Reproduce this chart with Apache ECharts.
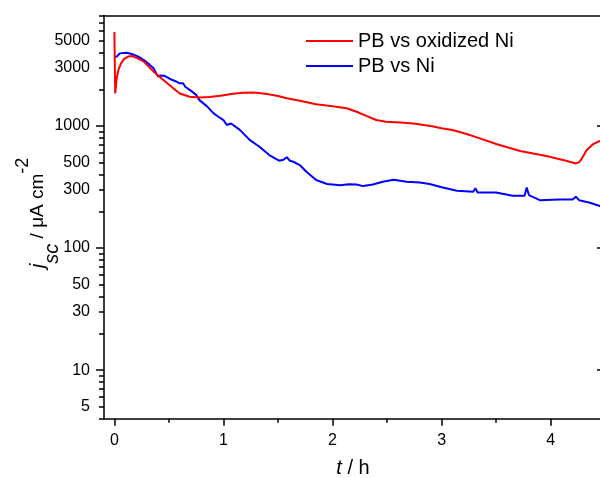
<!DOCTYPE html>
<html><head><meta charset="utf-8">
<script src="https://cdn.jsdelivr.net/npm/echarts@6/dist/echarts.min.js"></script>
<style>html,body{margin:0;padding:0;background:#fff}#c{width:600px;height:478px}</style>
</head><body><div id="c"></div>
<script>
const redName = 'PB vs oxidized Ni';
const blueName = 'PB vs Ni';

const redT = [0, 0.008, 0.02, 0.037, 0.06, 0.09, 0.13, 0.16, 0.21, 0.27, 0.36, 0.45, 0.54, 0.6, 0.69, 0.78, 0.87, 0.97, 1.09, 1.18, 1.27, 1.34, 1.40, 1.5, 1.58, 1.70, 1.85, 2.0, 2.13, 2.22, 2.31, 2.40, 2.49, 2.62, 2.74, 2.9, 3.0, 3.10, 3.23, 3.35, 3.50, 3.72, 3.96, 4.14, 4.23, 4.26, 4.28, 4.33, 4.39, 4.45, 4.47];
const redJ = [5900, 1850, 2400, 2880, 3250, 3550, 3720, 3750, 3600, 3370, 2790, 2380, 2040, 1850, 1740, 1710, 1730, 1770, 1840, 1870, 1880, 1860, 1830, 1760, 1690, 1610, 1510, 1450, 1400, 1310, 1210, 1120, 1085, 1070, 1050, 1000, 960, 927, 860, 792, 712, 624, 568, 520, 494, 505, 533, 636, 712, 754, 760];

const blueT = [0, 0.02, 0.05, 0.11, 0.17, 0.22, 0.27, 0.32, 0.36, 0.40, 0.42, 0.46, 0.51, 0.56, 0.6, 0.63, 0.65, 0.70, 0.75, 0.78, 0.85, 0.91, 0.96, 1.0, 1.03, 1.07, 1.15, 1.24, 1.33, 1.42, 1.51, 1.55, 1.58, 1.61, 1.64, 1.70, 1.76, 1.85, 1.95, 2.07, 2.15, 2.22, 2.28, 2.37, 2.46, 2.56, 2.68, 2.80, 2.89, 3.01, 3.14, 3.29, 3.31, 3.33, 3.42, 3.50, 3.65, 3.76, 3.78, 3.80, 3.90, 4.08, 4.20, 4.23, 4.26, 4.36, 4.45, 4.47];
const blueJ = [3700, 3700, 3940, 3990, 3870, 3700, 3470, 3200, 2970, 2540, 2600, 2580, 2430, 2330, 2240, 2240, 2100, 1950, 1800, 1630, 1450, 1270, 1180, 1120, 1020, 1050, 930, 770, 677, 578, 520, 530, 555, 520, 510, 479, 422, 361, 335, 328, 333, 332, 322, 332, 350, 363, 350, 345, 335, 314, 295, 290, 309, 285, 285, 285, 268, 268, 314, 272, 247, 250, 250, 264, 247, 235, 221, 218];

const xMajorTicks = [0, 1, 2, 3, 4];
const xMinorTicks = [0.5, 1.5, 2.5, 3.5];
const yLabelValues = [5, 10, 30, 50, 100, 300, 500, 1000, 3000, 5000];
const yMajorTicks = [10, 100, 1000];
const yMinorTicks = [4, 5, 6, 7, 8, 9, 20, 30, 40, 50, 60, 70, 80, 90, 200, 300, 400, 500, 600, 700, 800, 900, 2000, 3000, 4000, 5000, 6000, 7000, 8000];

const FONT = 'Liberation Sans, Arial, Helvetica, sans-serif';
const X_MIN = -0.095, X_MAX = 4.47, Y_MIN = 4, Y_MAX = 8050;
const axLine = {show: true, onZero: false, lineStyle: {color: '#000', width: 1.5}};
const noLine = {show: false, onZero: false};

const chart = echarts.init(document.getElementById('c'), null, {renderer: 'canvas'});
chart.setOption({
  animation: false,
  backgroundColor: '#fff',
  grid: {left: 104, right: -2, top: 15.5, bottom: 59.3, containLabel: false, outerBoundsMode: 'none'},
  legend: {
    orient: 'vertical', left: 306, top: 31, padding: 0, itemWidth: 47, itemHeight: 2, itemGap: 5, icon: 'rect',
    textStyle: {fontFamily: FONT, fontSize: 20, color: '#000', lineHeight: 20},
    data: [redName, blueName]
  },
  xAxis: [
    {type: 'value', position: 'bottom', min: X_MIN, max: X_MAX, axisLine: axLine,
     axisTick: {show: true, customValues: xMajorTicks, length: 7, lineStyle: {color: '#000', width: 1.5}},
     axisLabel: {show: true, customValues: xMajorTicks, margin: 14, fontFamily: FONT, fontSize: 16, color: '#000'},
     splitLine: {show: false},
     name: '{i|t} / h', nameLocation: 'middle', nameGap: 40,
     nameTextStyle: {fontFamily: FONT, fontSize: 20, color: '#000', rich: {i: {fontFamily: FONT, fontSize: 20, fontStyle: 'italic', color: '#000'}}}},
    {type: 'value', position: 'bottom', min: X_MIN, max: X_MAX, axisLine: noLine,
     axisTick: {show: true, customValues: xMinorTicks, length: 4, lineStyle: {color: '#000', width: 1.5}},
     axisLabel: {show: false}, splitLine: {show: false}},
    {type: 'value', position: 'top', min: X_MIN, max: X_MAX, axisLine: axLine,
     axisTick: {show: false}, axisLabel: {show: false}, splitLine: {show: false}}
  ],
  yAxis: [
    {type: 'log', logBase: 10, position: 'left', min: Y_MIN, max: Y_MAX, axisLine: axLine,
     axisTick: {show: true, customValues: yMinorTicks, length: 5, lineStyle: {color: '#000', width: 1.5}},
     axisLabel: {show: true, customValues: yLabelValues, margin: 14, fontFamily: FONT, fontSize: 16, color: '#000',
                 formatter: v => String(Math.round(v))},
     splitLine: {show: false}, minorTick: {show: false}},
    {type: 'log', logBase: 10, position: 'left', min: Y_MIN, max: Y_MAX, axisLine: noLine,
     axisTick: {show: true, customValues: yMajorTicks, length: 8, lineStyle: {color: '#000', width: 1.5}},
     axisLabel: {show: false}, splitLine: {show: false}},
    {type: 'log', logBase: 10, position: 'right', min: Y_MIN, max: Y_MAX, axisLine: axLine,
     axisTick: {show: true, inside: true, customValues: yMajorTicks, length: 5, lineStyle: {color: '#000', width: 1.5}},
     axisLabel: {show: false}, splitLine: {show: false}}
  ],
  graphic: [{
    type: 'text', x: 38, y: 213, rotation: Math.PI / 2, silent: true,
    style: {
      text: '{i|j}{sub|sc}{n| / μA cm}{sup|-2}',
      align: 'center', verticalAlign: 'middle', fill: '#000',
      rich: {
        i: {fontFamily: FONT, fontSize: 21, fontStyle: 'italic', lineHeight: 48, fill: '#000'},
        sub: {fontFamily: FONT, fontSize: 20, fontStyle: 'italic', lineHeight: 43, verticalAlign: 'bottom', fill: '#000'},
        n: {fontFamily: FONT, fontSize: 19, lineHeight: 48, fill: '#000'},
        sup: {fontFamily: FONT, fontSize: 18, lineHeight: 16, verticalAlign: 'top', fill: '#000'}
      }
    }
  }],
  series: [
    {name: redName, type: 'line', xAxisIndex: 0, yAxisIndex: 0, showSymbol: false, symbol: 'none',
     color: '#ff0000', lineStyle: {color: '#ff0000', width: 2}, z: 3,
     data: redT.map((t, i) => [t, redJ[i]])},
    {name: blueName, type: 'line', xAxisIndex: 0, yAxisIndex: 0, showSymbol: false, symbol: 'none',
     color: '#0000ff', lineStyle: {color: '#0000ff', width: 2}, z: 2,
     data: blueT.map((t, i) => [t, blueJ[i]])}
  ]
});
</script></body></html>
